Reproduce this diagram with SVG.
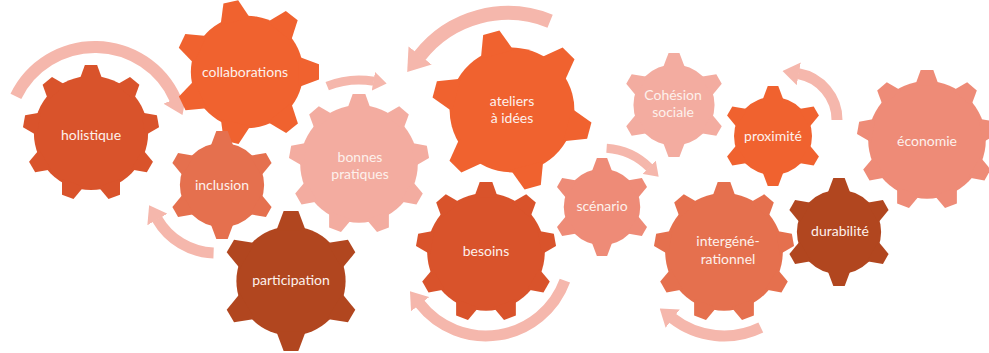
<svg xmlns="http://www.w3.org/2000/svg" xmlns:xlink="http://www.w3.org/1999/xlink" width="989" height="353" viewBox="0 0 989 353">
<style>
.lbl{font-family:Lato,"Open Sans","DejaVu Sans",sans-serif;font-size:14px;fill:#FDF1EC;text-anchor:middle}
.arc{fill:none;stroke:#F5B7AC;stroke-linecap:butt;marker-end:url(#ah)}
</style>
<defs>
<marker id="ah" viewBox="0 0 15 21" refX="0.5" refY="10.5" markerWidth="1.5" markerHeight="2.1" orient="auto" markerUnits="strokeWidth" preserveAspectRatio="none">
<path d="M0,0 L15,10.5 L0,21 z" fill="#F5B7AC"/>
</marker>
<polygon id="tA" points="-17,-78 -9,-100 9,-100 17,-78"/>
<polygon id="tB" points="-21,-72 -10.5,-100 10.5,-100 21,-72"/>
<g id="gear9">
<circle r="84"/>
<use xlink:href="#tA"/>
<use xlink:href="#tA" transform="rotate(40)"/>
<use xlink:href="#tA" transform="rotate(80)"/>
<use xlink:href="#tA" transform="rotate(120)"/>
<use xlink:href="#tA" transform="rotate(160)"/>
<use xlink:href="#tA" transform="rotate(200)"/>
<use xlink:href="#tA" transform="rotate(240)"/>
<use xlink:href="#tA" transform="rotate(280)"/>
<use xlink:href="#tA" transform="rotate(320)"/>
</g>
<g id="gear6">
<circle r="78"/>
<use xlink:href="#tB"/>
<use xlink:href="#tB" transform="rotate(60)"/>
<use xlink:href="#tB" transform="rotate(120)"/>
<use xlink:href="#tB" transform="rotate(180)"/>
<use xlink:href="#tB" transform="rotate(240)"/>
<use xlink:href="#tB" transform="rotate(300)"/>
</g>
<g id="gear7">
<circle r="78"/>
<use xlink:href="#tB"/>
<use xlink:href="#tB" transform="rotate(51.43)"/>
<use xlink:href="#tB" transform="rotate(102.86)"/>
<use xlink:href="#tB" transform="rotate(154.29)"/>
<use xlink:href="#tB" transform="rotate(205.71)"/>
<use xlink:href="#tB" transform="rotate(257.14)"/>
<use xlink:href="#tB" transform="rotate(308.57)"/>
</g>
</defs>
<rect width="989" height="353" fill="#FFFFFF"/>

<g id="connectors">
<path class="arc" stroke-width="12" d="M15.9,96.4 A88,88 0 0 1 175.4,99.2"/>
<path class="arc" stroke-width="9" d="M327.2,86.2 A85,85 0 0 1 373.8,81.3"/>
<path class="arc" stroke-width="14" d="M550.1,21.2 A112,112 0 0 0 419.7,56"/>
<path class="arc" stroke-width="11" d="M213.6,253 A68,68 0 0 1 157.1,219"/>
<path class="arc" stroke-width="11" d="M564.9,280.7 A84,84 0 0 1 419.8,303.7"/>
<path class="arc" stroke-width="9" d="M606.6,148.2 A67,67 0 0 1 649.4,167.6"/>
<path class="arc" stroke-width="11" d="M837,120 A47,47 0 0 0 798.2,73.7"/>
<path class="arc" stroke-width="11" d="M760.8,327.5 A84,84 0 0 1 672.3,318.2"/>
</g>

<g id="holistique">
<use xlink:href="#gear9" fill="#D9532B" transform="translate(91,133) scale(0.68)"/>
<text class="lbl" x="91" y="140">holistique</text>
</g>
<g id="collaborations">
<use xlink:href="#gear7" fill="#F0622F" transform="translate(247,72) scale(0.72) rotate(-13)"/>
<text class="lbl" x="245" y="77">collaborations</text>
</g>
<g id="inclusion">
<use xlink:href="#gear6" fill="#E5704E" transform="translate(222,185) scale(0.54)"/>
<text class="lbl" x="222" y="190">inclusion</text>
</g>
<g id="participation">
<use xlink:href="#gear6" fill="#B1461F" transform="translate(291,281) scale(0.70)"/>
<text class="lbl" x="291" y="285">participation</text>
</g>
<g id="bonnes-pratiques">
<use xlink:href="#gear9" fill="#F3ACA0" transform="translate(359,164) scale(0.70)"/>
<text class="lbl" x="360" y="161.5">bonnes</text>
<text class="lbl" x="360" y="179">pratiques</text>
</g>
<g id="ateliers">
<use xlink:href="#gear6" fill="#F0622F" transform="translate(512,110) scale(0.80) rotate(-15)"/>
<text class="lbl" x="512" y="106">ateliers</text>
<text class="lbl" x="512" y="123">à idées</text>
</g>
<g id="besoins">
<use xlink:href="#gear9" fill="#D9532B" transform="translate(486,252) scale(0.70)"/>
<text class="lbl" x="486" y="256">besoins</text>
</g>
<g id="scenario">
<use xlink:href="#gear6" fill="#EE8B77" transform="translate(602,207) scale(0.49)"/>
<text class="lbl" x="602" y="211">scénario</text>
</g>
<g id="cohesion-sociale">
<use xlink:href="#gear6" fill="#F3ACA0" transform="translate(674,105) scale(0.52)"/>
<text class="lbl" x="673" y="100">Cohésion</text>
<text class="lbl" x="673" y="117">sociale</text>
</g>
<g id="proximite">
<use xlink:href="#gear6" fill="#F0622F" transform="translate(773,136) scale(0.50)"/>
<text class="lbl" x="773" y="141">proximité</text>
</g>
<g id="intergenerationnel">
<use xlink:href="#gear9" fill="#E5704E" transform="translate(724,252) scale(0.70)"/>
<text class="lbl" x="728" y="246">intergéné-</text>
<text class="lbl" x="728" y="264">rationnel</text>
</g>
<g id="durabilite">
<use xlink:href="#gear6" fill="#B1461F" transform="translate(839,232) scale(0.54)"/>
<text class="lbl" x="840" y="236">durabilité</text>
</g>
<g id="economie">
<use xlink:href="#gear9" fill="#EE8B77" transform="translate(927,140) scale(0.70)"/>
<text class="lbl" x="927" y="146">économie</text>
</g>
</svg>
